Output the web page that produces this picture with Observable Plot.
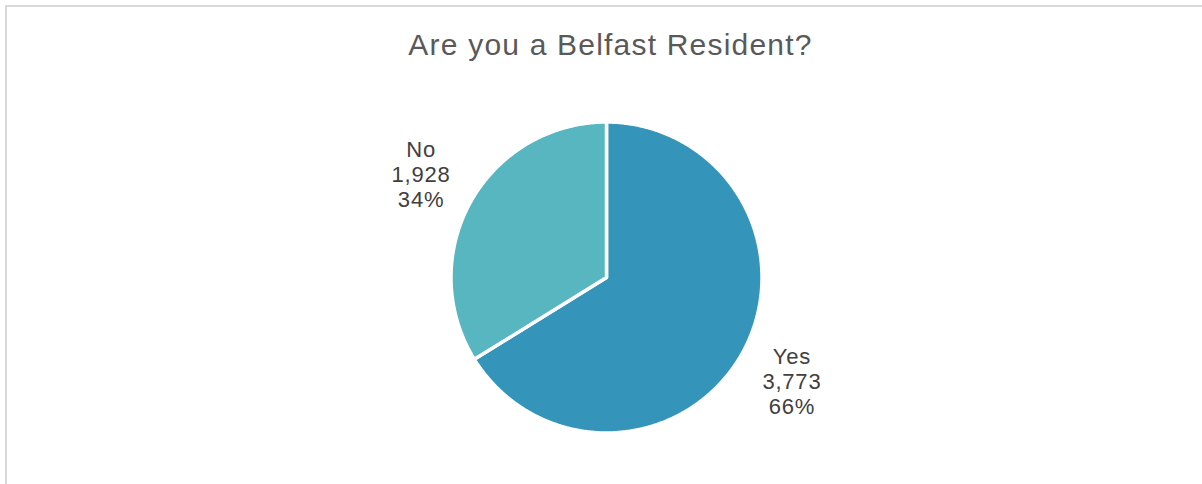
<!DOCTYPE html>
<html>
<head>
<meta charset="utf-8">
<script src="https://cdn.jsdelivr.net/npm/d3@7"></script>
<script src="https://cdn.jsdelivr.net/npm/@observablehq/plot@0.6"></script>
<style>
  html, body { margin: 0; padding: 0; background: #fff; overflow: hidden; width: 1202px; height: 484px; }
  #frame { position: absolute; left: 5px; top: 5px; width: 1220px; height: 600px;
           border-top: 2px solid #d9d9d9; border-left: 2px solid #d9d9d9; box-sizing: border-box; }
  #chart { position: absolute; left: 0; top: 0; }
</style>
</head>
<body>
<div id="frame"></div>
<div id="chart"></div>
<script>
// ---- data ----
const title = "Are you a Belfast Resident?";
const categories = ["Yes", "No"];
const counts = [3773, 1928];
const colors = ["#3494BA", "#58B6C0"];

// ---- layout ----
const W = 1202, H = 484;
const cx = 606, cy = 277, R = 155.5; // pixel center & radius of pie

const data = categories.map((c, i) => ({cat: c, value: counts[i]}));
const total = d3.sum(counts);
const arcs = d3.pie().sort(null).value(d => d.value)(data);

// polygon outlines of slices in unit-radius coordinates (y up)
const slicePts = [];
for (const a of arcs) {
  slicePts.push({cat: a.data.cat, x: 0, y: 0});
  const n = Math.max(2, Math.ceil((a.endAngle - a.startAngle) / (Math.PI / 360)));
  for (let k = 0; k <= n; k++) {
    const t = a.startAngle + (a.endAngle - a.startAngle) * k / n;
    slicePts.push({cat: a.data.cat, x: Math.sin(t), y: Math.cos(t)});
  }
}

const fmt = d3.format(",");
const labels = arcs.map(a => {
  const m = (a.startAngle + a.endAngle) / 2;
  return {
    cat: a.data.cat,
    x: 1.365 * Math.sin(m),
    y: 1.37 * Math.cos(m),
    text: `${a.data.cat}\n${fmt(a.data.value)}\n${Math.round(a.data.value / total * 100)}%`
  };
});

const chart = Plot.plot({
  width: W,
  height: H,
  margin: 0,
  x: {domain: [-cx / R, (W - cx) / R], axis: null},
  y: {domain: [-(H - cy) / R, cy / R], axis: null},
  color: {domain: categories, range: colors},
  style: {fontFamily: "'Liberation Sans', Arial, sans-serif", background: "transparent"},
  marks: [
    Plot.line(slicePts, {x: "x", y: "y", z: "cat", fill: "cat", stroke: "white", strokeWidth: 3.5, curve: "linear-closed"}),
    Plot.text(labels, {x: "x", y: "y", text: "text", fontSize: 22, lineHeight: 1.14, fill: "#404040"}),
    Plot.text([title], {frameAnchor: "top", lineAnchor: "middle", text: d => d, dx: 9, dy: 45, fontSize: 30, fill: "#595959"})
  ]
});
// letter spacing to match the reference's wider text
const textGroups = chart.querySelectorAll('g[aria-label="text"]');
if (textGroups[0]) textGroups[0].style.letterSpacing = "0.8px";
if (textGroups[1]) textGroups[1].style.letterSpacing = "1.2px";
document.getElementById("chart").append(chart);
</script>
</body>
</html>
